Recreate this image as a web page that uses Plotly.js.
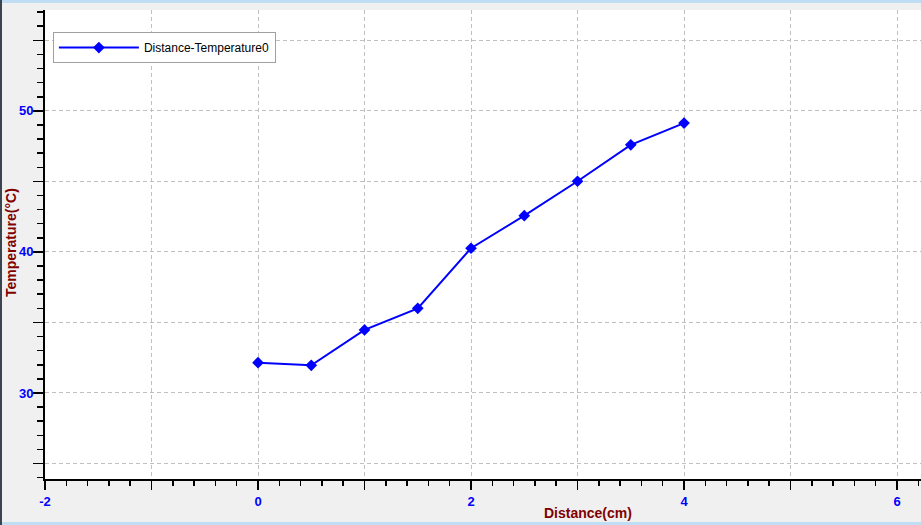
<!DOCTYPE html>
<html>
<head>
<meta charset="utf-8">
<script src="https://cdn.plot.ly/plotly-3.0.1.min.js"></script>
<style>html,body{margin:0;padding:0;background:#F0F0F0;}#chart{width:921px;height:525px;}</style>
</head>
<body>
<div id="chart"></div>
<script>
const distance = [0, 0.5, 1, 1.5, 2, 2.5, 3, 3.5, 4];
const temperature = [32.15, 31.96, 34.47, 36.0, 40.26, 42.57, 45.01, 47.59, 49.13];
const seriesName = 'Distance-Temperature0';
const xTickVals = [-2, -1, 0, 1, 2, 3, 4, 5, 6];
const xTickText = ['-2', '', '0', '', '2', '', '4', '', '6'];
const yTickVals = [25, 30, 35, 40, 45, 50, 55];
const yTickText = ['', '30', '', '40', '', '50', ''];
const xTitle = 'Distance(cm)';
const yTitle = 'Temperature(°C)';

const trace = {
  x: distance, y: temperature, name: seriesName,
  type: 'scatter', mode: 'lines+markers',
  line: {color: '#0000FF', width: 2},
  marker: {symbol: 'diamond', size: 9, color: '#0000FF'}
};

const tickFont = {family: 'Liberation Sans, Arial, sans-serif', size: 13, color: '#0000FF', weight: 'bold'};

const layout = {
  width: 921, height: 525,
  margin: {l: 45, r: 0, t: 10, b: 46, pad: 0},
  paper_bgcolor: '#F0F0F0',
  plot_bgcolor: '#FFFFFF',
  showlegend: true,
  legend: {
    x: 0.009, y: 0.953, xanchor: 'left', yanchor: 'top',
    bgcolor: '#FFFFFF', bordercolor: '#A0A0A0', borderwidth: 1,
    font: {family: 'Liberation Sans, Arial, sans-serif', size: 12, color: '#000000'},
    itemwidth: 80, tracegroupgap: 0
  },
  xaxis: {
    range: [-2, 6.225], tickmode: 'array', tickvals: xTickVals, ticktext: xTickText,
    tickfont: tickFont, ticks: 'outside', ticklen: 9, tickwidth: 1.5, tickcolor: '#000000',
    showline: true, linecolor: '#000000', linewidth: 2,
    showgrid: true, gridcolor: '#C0C0C0', griddash: '4px,3px', gridwidth: 1,
    zeroline: false,
    minor: {dtick: 0.2, ticks: 'outside', ticklen: 5, tickcolor: '#000000', tickwidth: 1.5, showgrid: false}
  },
  yaxis: {
    range: [23.9, 57.15], tickmode: 'array', tickvals: yTickVals, ticktext: yTickText,
    tickfont: tickFont, ticks: 'outside', ticklen: 10, tickwidth: 1.5, tickcolor: '#000000',
    ticklabelstandoff: -3,
    showline: true, linecolor: '#000000', linewidth: 2,
    showgrid: true, gridcolor: '#C0C0C0', griddash: '4px,3px', gridwidth: 1,
    zeroline: false,
    minor: {dtick: 1, ticks: 'outside', ticklen: 6, tickcolor: '#000000', tickwidth: 1.5, showgrid: false}
  },
  annotations: [
    {text: xTitle, xref: 'paper', yref: 'paper', x: (588 - 45) / 876, y: -(513 - 479) / 469,
     xanchor: 'center', yanchor: 'middle', showarrow: false,
     font: {family: 'Liberation Sans, Arial, sans-serif', size: 14, color: '#800000', weight: 'bold'}},
    {text: yTitle, xref: 'paper', yref: 'paper', x: -(45 - 11) / 876, y: (479 - 243) / 469,
     xanchor: 'center', yanchor: 'middle', textangle: -90, showarrow: false,
     font: {family: 'Liberation Sans, Arial, sans-serif', size: 14, color: '#800000', weight: 'bold'}}
  ],
  shapes: [
    {type: 'rect', xref: 'paper', yref: 'paper', x0: -45/876, x1: 1, y0: 1 + 7/469, y1: 1 + 10/469,
     fillcolor: '#BFDDF3', line: {width: 0}, layer: 'below'},
    {type: 'rect', xref: 'paper', yref: 'paper', x0: -45/876, x1: 1, y0: -46/469, y1: -43/469,
     fillcolor: '#BFDDF3', line: {width: 0}, layer: 'below'},
    {type: 'rect', xref: 'paper', yref: 'paper', x0: -45/876, x1: -43/876, y0: -46/469, y1: 1 + 10/469,
     fillcolor: '#3A4550', line: {width: 0}, layer: 'below'}
  ]
};

Plotly.newPlot('chart', [trace], layout, {displayModeBar: false, staticPlot: true});
</script>
</body>
</html>
